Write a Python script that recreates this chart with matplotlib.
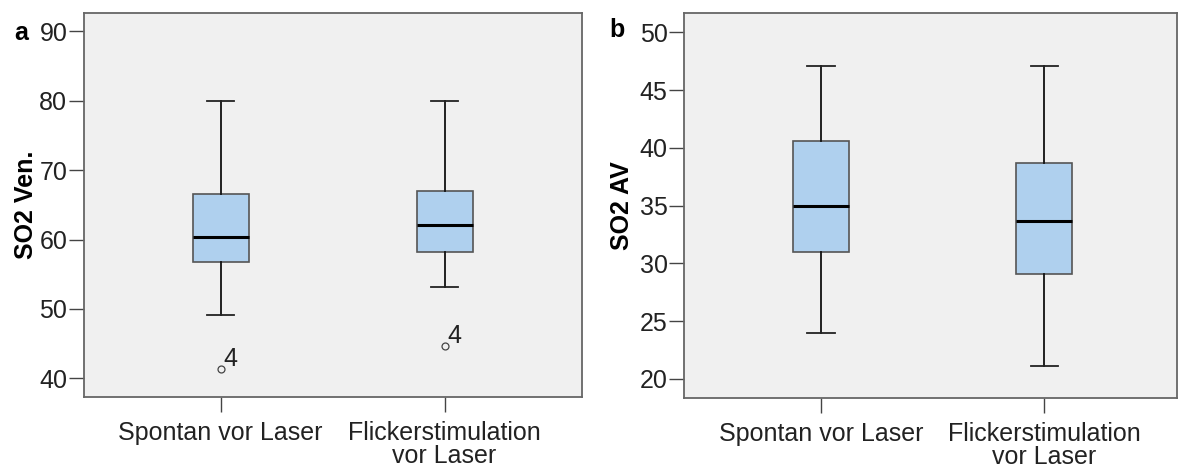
import matplotlib
matplotlib.use("Agg")
import matplotlib.pyplot as plt

plt.rcParams['font.family'] = ['Liberation Sans', 'DejaVu Sans']

categories = ["Spontan vor Laser", "Flickerstimulation\nvor Laser"]

# Panel a: SO2 Ven.
a_whislo = [49.1, 53.1]
a_q1 = [56.7, 58.2]
a_med = [60.4, 62.1]
a_q3 = [66.6, 67.0]
a_whishi = [80.0, 80.0]
a_outliers = [[41.3], [44.6]]
a_outlier_labels = ["4", "4"]
a_ticks = [40, 50, 60, 70, 80, 90]

# Panel b: SO2 AV
b_whislo = [24.0, 21.1]
b_q1 = [31.0, 29.05]
b_med = [35.0, 33.65]
b_q3 = [40.55, 38.65]
b_whishi = [47.1, 47.1]
b_ticks = [20, 25, 30, 35, 40, 45, 50]

W, H = 1178, 467
fig = plt.figure(figsize=(W / 100, H / 100), dpi=100)

def px_axes(l, t, r, b):
    return fig.add_axes([l / W, 1 - b / H, (r - l) / W, (b - t) / H])

ax_a = px_axes(84, 12.7, 581.7, 397)
ax_b = px_axes(684.3, 13.3, 1177.3, 398.3)

bg = '#F0F0F0'
boxfill = '#AFD0EE'
edge = '#555555'
FS = 18

def draw(ax, whislo, q1, med, q3, whishi, fliers, ylim, ticks, xlim, ylabel, labx):
    stats = []
    for i in range(len(categories)):
        stats.append(dict(whislo=whislo[i], q1=q1[i], med=med[i], q3=q3[i],
                          whishi=whishi[i], fliers=fliers[i] if fliers else []))
    ax.set_facecolor(bg)
    ax.bxp(stats, positions=[1, 2], widths=0.25, patch_artist=True,
           showfliers=True, capwidths=0.122,
           boxprops=dict(facecolor=boxfill, edgecolor=edge, linewidth=1.2),
           medianprops=dict(color='black', linewidth=2.2),
           whiskerprops=dict(color='#111111', linewidth=1.3),
           capprops=dict(color='#222222', linewidth=1.3),
           flierprops=dict(marker='o', markersize=5, markerfacecolor='none',
                           markeredgecolor='#444444', markeredgewidth=0.9))
    ax.set_xlim(*xlim)
    ax.set_ylim(*ylim)
    ax.set_yticks(ticks)
    ax.set_xticks([1, 2])
    ax.set_xticklabels(categories, linespacing=0.95)
    for sp in ax.spines.values():
        sp.set_color('#666666')
        sp.set_linewidth(1.3)
    ax.tick_params(axis='both', length=11, width=1.0, color='#444444',
                   labelsize=FS, labelcolor='#222222', pad=1)
    ax.tick_params(axis='x', pad=6)
    ax.set_ylabel(ylabel, fontsize=FS, fontweight='bold', va='center')
    ax.yaxis.set_label_coords(labx, 0.5)

draw(ax_a, a_whislo, a_q1, a_med, a_q3, a_whishi, a_outliers,
     (37.3, 92.7), a_ticks, (0.39, 2.612), "SO2 Ven.", -0.1165)
draw(ax_b, b_whislo, b_q1, b_med, b_q3, b_whishi, None,
     (18.33, 51.64), b_ticks, (0.388, 2.596), "SO2 AV", -0.126)

for i, (vals, lab) in enumerate(zip(a_outliers, a_outlier_labels)):
    ax_a.annotate(lab, (i + 1, vals[0]), xytext=(2, -1), textcoords='offset points',
                  fontsize=FS, color='#222222', ha='left', va='bottom')

fig.text(21 / W, 1 - 33 / H, "a", fontsize=FS, fontweight='bold', ha='center', va='center')
fig.text(617 / W, 1 - 30 / H, "b", fontsize=FS, fontweight='bold', ha='center', va='center')

fig.savefig("out.png", dpi=100)
